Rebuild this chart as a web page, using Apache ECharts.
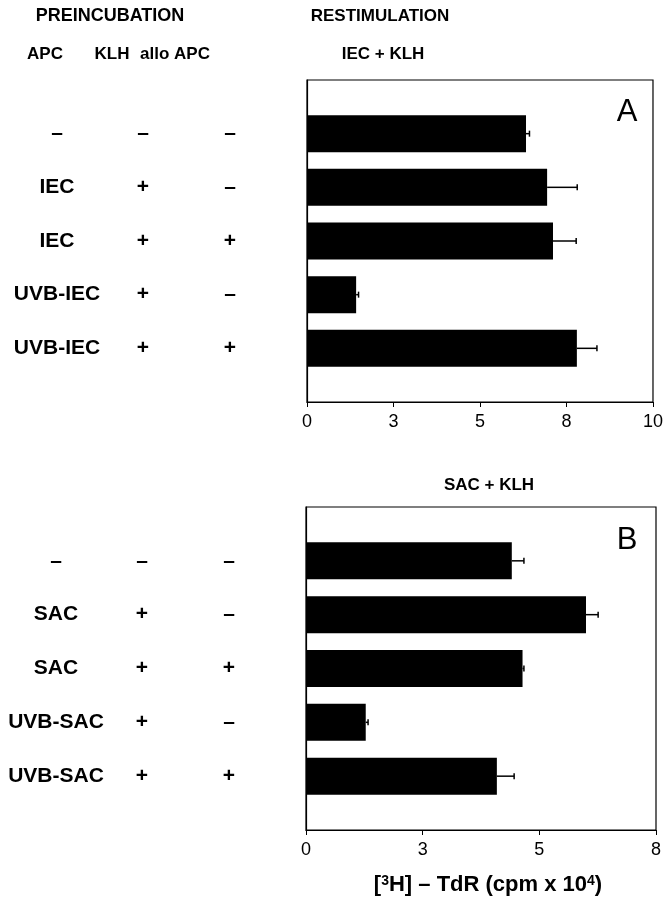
<!DOCTYPE html>
<html><head><meta charset="utf-8">
<script src="https://cdn.jsdelivr.net/npm/echarts@6/dist/echarts.min.js"></script>
<style>html,body{margin:0;padding:0;background:#fff}#c{width:666px;height:899px}</style>
</head><body><div id="c"></div>
<script>
// Panel A: restimulation IEC + KLH
const apcA = ['–', 'IEC', 'IEC', 'UVB-IEC', 'UVB-IEC'];
const klhA = ['–', '+', '+', '+', '+'];
const alloA = ['–', '–', '+', '–', '+'];
const valuesA = [6.33, 6.94, 7.11, 1.42, 7.80];
const errA = [0.10, 0.87, 0.67, 0.07, 0.58];
const ticksA = ['0', '3', '5', '8', '10'];
// Panel B: restimulation SAC + KLH
const apcB = ['–', 'SAC', 'SAC', 'UVB-SAC', 'UVB-SAC'];
const klhB = ['–', '+', '+', '+', '+'];
const alloB = ['–', '–', '+', '–', '+'];
const valuesB = [4.41, 6.00, 4.64, 1.28, 4.09];
const errB = [0.26, 0.26, 0.03, 0.05, 0.37];
const ticksB = ['0', '3', '5', '8'];

const FONT = '"Liberation Sans", Arial, Helvetica, sans-serif';
const slots = ['0', '1', '2', '3', '4', '5', '6'];

function yAxisFor(gi, apc, klh, allo) {
  return {
    type: 'category', gridIndex: gi, data: slots, inverse: true, boundaryGap: false,
    axisLine: { show: true, lineStyle: { color: '#000', width: 1.2 } },
    axisTick: { show: false },
    splitLine: { show: false },
    axisLabel: {
      interval: 0, margin: 19,
      formatter: function (v, i) {
        const k = i - 1;
        if (k < 0 || k >= apc.length) return '';
        return '{a|' + apc[k] + '}{b|' + klh[k] + '}{c|' + allo[k] + '}';
      },
      rich: {
        a: { width: 114, align: 'center', fontFamily: FONT, fontWeight: 'bold', fontSize: 21, color: '#000' },
        b: { width: 58, align: 'center', fontFamily: FONT, fontWeight: 'bold', fontSize: 21, color: '#000' },
        c: { width: 116, align: 'center', fontFamily: FONT, fontWeight: 'bold', fontSize: 21, color: '#000' }
      }
    }
  };
}
function xAxisFor(gi, max, ticks) {
  return {
    type: 'value', gridIndex: gi, min: 0, max: max, interval: 2.5,
    axisLine: { show: true, lineStyle: { color: '#000', width: 1.2 } },
    axisTick: { show: true, inside: false, length: 5, lineStyle: { color: '#000' } },
    splitLine: { show: false },
    axisLabel: {
      margin: 11, fontFamily: FONT, fontSize: 18, color: '#000',
      formatter: function (v) { return ticks[Math.round(v / 2.5)]; }
    }
  };
}
function barData(vals) { return ['-'].concat(vals, ['-']); }
function errData(vals, errs) { return vals.map((v, i) => [v, errs[i], i + 1]); }
function errRender(params, api) {
  const v = api.value(0), e = api.value(1), c = api.value(2);
  const p0 = api.coord([v, c]);
  const p1 = api.coord([v + e, c]);
  const st = { stroke: '#000', lineWidth: 1.5 };
  return {
    type: 'group', children: [
      { type: 'line', shape: { x1: p0[0], y1: p0[1], x2: p1[0], y2: p1[1] }, style: st },
      { type: 'line', shape: { x1: p1[0], y1: p1[1] - 3, x2: p1[0], y2: p1[1] + 3 }, style: st }
    ]
  };
}
const chart = echarts.init(document.getElementById('c'), null, { renderer: 'canvas' });
const txt = (x, y, t, size, bold) => ({
  type: 'text', x: x, y: y,
  style: { text: t, fontFamily: FONT, fontSize: size, fontWeight: bold ? 'bold' : 'normal', fill: '#000', align: 'center', verticalAlign: 'middle' }
});
chart.setOption({
  animation: false,
  backgroundColor: '#fff',
  grid: [
    { left: 307, top: 80, width: 350, height: 322, show: true, borderColor: '#000', borderWidth: 1.2, backgroundColor: 'transparent' },
    { left: 306, top: 507, width: 350, height: 323, show: true, borderColor: '#000', borderWidth: 1.2, backgroundColor: 'transparent' }
  ],
  xAxis: [xAxisFor(0, 10, ticksA), xAxisFor(1, 7.5, ticksB)],
  yAxis: [yAxisFor(0, apcA, klhA, alloA), yAxisFor(1, apcB, klhB, alloB)],
  series: [
    { type: 'bar', xAxisIndex: 0, yAxisIndex: 0, data: barData(valuesA), barWidth: 37, itemStyle: { color: '#000' } },
    { type: 'custom', xAxisIndex: 0, yAxisIndex: 0, data: errData(valuesA, errA), renderItem: errRender, encode: { x: 0, y: 2 }, z: 5 },
    { type: 'bar', xAxisIndex: 1, yAxisIndex: 1, data: barData(valuesB), barWidth: 37, itemStyle: { color: '#000' } },
    { type: 'custom', xAxisIndex: 1, yAxisIndex: 1, data: errData(valuesB, errB), renderItem: errRender, encode: { x: 0, y: 2 }, z: 5 }
  ],
  graphic: [
    txt(110, 16, 'PREINCUBATION', 18, true),
    txt(45, 54, 'APC', 17, true),
    txt(112, 54, 'KLH', 17, true),
    txt(175, 54, 'allo APC', 17, true),
    txt(380, 16, 'RESTIMULATION', 17, true),
    txt(383, 54, 'IEC + KLH', 17, true),
    txt(489, 485, 'SAC + KLH', 17, true),
    txt(627, 112, 'A', 31, false),
    txt(627, 540, 'B', 31, false),
    {
      type: 'text', x: 488, y: 885,
      style: {
        text: '[{s|3}H] – TdR (cpm x 10{s|4})',
        fontFamily: FONT, fontSize: 22, fontWeight: 'bold', fill: '#000', align: 'center', verticalAlign: 'middle',
        rich: { s: { fontFamily: FONT, fontSize: 14, fontWeight: 'bold', verticalAlign: 'top', fill: '#000' } }
      }
    }
  ]
});
</script></body></html>
